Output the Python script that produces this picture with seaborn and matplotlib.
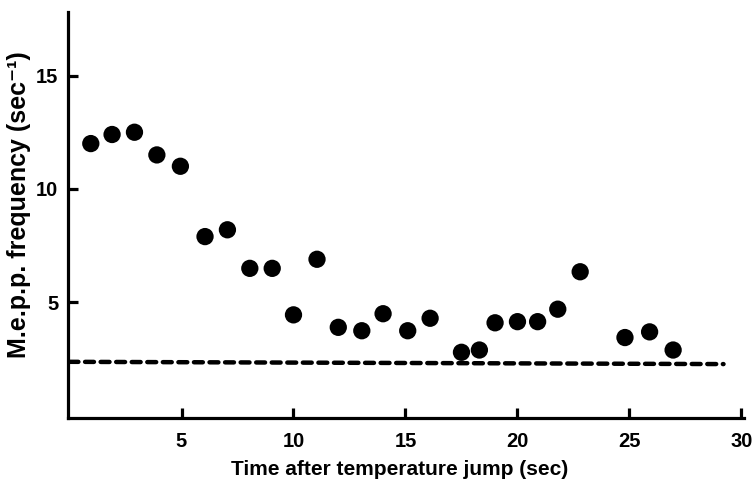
import numpy as np
import pandas as pd
import matplotlib
matplotlib.use("Agg")
import matplotlib.pyplot as plt
import seaborn as sns

# ============================================================
# DATA
# ============================================================

time_sec = [0.95, 1.9, 2.9, 3.9, 4.95, 6.05, 7.05, 8.05, 9.05, 10.0,
            11.05, 12.0, 13.05, 14.0, 15.1, 16.1, 17.5, 18.3, 19.0, 20.0,
            20.9, 21.8, 22.8, 24.8, 25.9, 26.95]
mepp_freq = [12.0, 12.4, 12.5, 11.5, 11.0, 7.9, 8.2, 6.5, 6.5, 4.45,
             6.9, 3.9, 3.75, 4.5, 3.75, 4.3, 2.8, 2.9, 4.1, 4.15,
             4.15, 4.7, 6.35, 3.45, 3.7, 2.9]

baseline_t = [0.0, 29.2]
baseline_f = [2.38, 2.28]

x_ticks = [5, 10, 15, 20, 25, 30]
y_ticks = [5, 10, 15]

df = pd.DataFrame({"t": time_sec, "f": mepp_freq})
base = pd.DataFrame({"t": baseline_t, "f": baseline_f})

# ============================================================
# PLOT
# ============================================================

sns.set_style("ticks", {"axes.edgecolor": "black", "xtick.color": "black",
                        "ytick.color": "black", "text.color": "black",
                        "axes.labelcolor": "black"})
plt.rcParams["font.family"] = ["Liberation Sans", "DejaVu Sans"]

fig = plt.figure(figsize=(7.55, 4.8), dpi=100)
ax = fig.add_axes([0.090, 0.129, 0.895, 0.846])

sns.lineplot(data=base, x="t", y="f", ax=ax, color="black", linewidth=3.2,
             linestyle=(0, (2.0, 1.5)), dash_capstyle="round")
sns.scatterplot(data=df, x="t", y="f", ax=ax, color="black", s=155,
                edgecolor="none", zorder=3)

ax.set_xlim(-0.07, 30.1)
ax.set_ylim(-0.1, 17.8)
ax.set_xticks(x_ticks)
ax.set_yticks(y_ticks)

for side in ["top", "right"]:
    ax.spines[side].set_visible(False)
for side in ["left", "bottom"]:
    ax.spines[side].set_linewidth(2.3)
    ax.spines[side].set_color("black")

ax.tick_params(direction="in", length=7, width=2.3, labelsize=14.5,
               colors="black")
ax.tick_params(axis="x", pad=10)
ax.tick_params(axis="y", pad=7)
for lab in ax.get_xticklabels() + ax.get_yticklabels():
    lab.set_fontweight("bold")

ax.set_xlabel("Time after temperature jump (sec)", fontsize=15,
              fontweight="bold", color="black")
ax.set_ylabel("M.e.p.p. frequency (sec\u207b\u00b9)", fontsize=18,
              fontweight="bold", color="black")
ax.xaxis.set_label_coords(0.491, -0.103)
ax.yaxis.set_label_coords(-0.054, 0.525)

fig.savefig("out.png", dpi=100)
